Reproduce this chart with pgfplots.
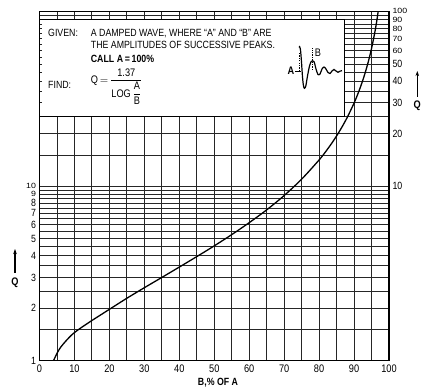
\documentclass[border=0pt]{standalone}
\usepackage{fontspec}
\setmainfont{Liberation Sans}[FakeStretch=0.84]
\usepackage{amsmath}
\usepackage{graphicx}
\usepackage{pgfplots}
\pgfplotsset{compat=1.18}
\usetikzlibrary{arrows.meta}
\newcommand{\sq}[1]{\scalebox{1}[0.72]{#1}}
\begin{document}
\begin{tikzpicture}[x=1bp,y=1bp]
\path[use as bounding box] (0,0) rectangle (426,389);
\begin{axis}[
  at={(39.5bp,28.3bp)}, anchor=south west,
  scale only axis, width=349.5bp, height=349bp,
  xmin=0, xmax=100, ymode=log, ymin=1, ymax=100,
  xtick={0,10,...,100}, minor xtick={5,15,...,95},
  ytick={1,2,3,4,5,6,7,8,9,10},
  yticklabels={1,2,3,4,5,6,7,8,\sq{9},\raisebox{1.5bp}{\sq{10}}},
  minor ytick={1.5,2.5,3.5,4.5,5.5,6.5,7.5,8.5,9.5,15,20,25,30,35,40,45,50,55,60,65,70,75,80,85,90,95,100},
  grid=both,
  grid style={black!85, line width=0.95bp},
  minor grid style={black!85, line width=0.95bp},
  major tick length=0pt, minor tick length=0pt,
  axis line style={line width=1.1bp},
  tick label style={font=\fontsize{11}{12}\selectfont},
  yticklabel style={font=\fontsize{10.5}{10.5}\selectfont},
  /pgf/number format/assume math mode=true,
  xticklabel style={yshift=-1bp},
]
\fill[white] (axis cs:0.7,25) rectangle (axis cs:87.2,90);
\draw[black, line width=1bp] (axis cs:0,90) -- (axis cs:87.2,90) -- (axis cs:87.2,25) -- (axis cs:0,25);
\addplot[black, line width=1.3bp, smooth, tension=0.5] coordinates {
(4.0,1.0) (4.5,1.05) (5.2,1.12) (6,1.19) (7,1.26) (8.5,1.36) (10,1.45) (12,1.55) (15,1.70) (17.5,1.83) (20,1.97)
(25,2.28) (30,2.62) (35,3.00) (40,3.44) (45,3.95) (50,4.55) (55,5.28) (60,6.18) (65,7.32) (70,8.84) (75,10.97)
(80,14.14) (82,15.90) (84,18.09) (86,20.92) (88,24.68) (90,29.94) (91,33.45) (92,37.84) (93,43.46) (94,50.99)
(95,61.49) (96,77.27) (96.5,88.56) (96.89,100)
};
\end{axis}
\begin{axis}[
  at={(39.5bp,28.3bp)}, anchor=south west,
  scale only axis, width=349.5bp, height=349bp,
  xmin=0, xmax=100, ymode=log, ymin=1, ymax=100,
  xtick=\empty,
  ytick={10,20,30,40,50,60,70,80,90,100},
  yticklabels={10,20,30,40,50,\sq{60},\sq{70},\sq{80},\sq{90},\raisebox{2bp}{\sq{100}}},
  yticklabel pos=right,
  axis line style={draw=none},
  major tick length=0pt, minor tick length=0pt,
  tick label style={font=\fontsize{10.5}{10.5}\selectfont},
  /pgf/number format/assume math mode=true,
]
\end{axis}
% inset: damped wave
\begin{axis}[
  at={(290bp,295bp)}, anchor=south west,
  scale only axis, width=55bp, height=51bp,
  xmin=290, xmax=345, ymin=295, ymax=346,
  hide axis, clip=false,
]
\addplot[black, line width=1.2bp, smooth, tension=0.5] coordinates {
(299.0,341.5) (299.6,342.3) (300.5,339) (301.5,327) (302.5,312) (303.5,303) (304.5,300.7) (305.8,303)
(307.5,313) (309.5,323) (311.2,327.5) (312.7,328.2) (314.2,327) (316,320) (318,314.5) (320,315) (322,320)
(324,322) (326,320) (328,316.5) (330,315.5) (332,318) (334,319.5) (336,318) (338,316.7) (340,317.8) (342,318.3)
};
\addplot[black, line width=0.7bp] coordinates {(295,318) (301,318)};
\addplot[black, line width=0.7bp, dash pattern=on 1.2bp off 1.2bp] coordinates {(299,318) (299,337)};
\addplot[black, line width=0.7bp, dash pattern=on 1.2bp off 1.2bp] coordinates {(312.7,319) (312.7,341)};
\node[font=\fontsize{11}{11}\selectfont\bfseries] at (axis cs:291,318.5) {A};
\node[font=\fontsize{11}{11}\selectfont] at (axis cs:318,336) {B};
\end{axis}
% box texts
\begin{scope}[every node/.style={font=\fontsize{10.5}{12}\selectfont, inner sep=0pt, anchor=west}]
\node at (48,355.7) {GIVEN:};
\node at (90.7,355.7) {A DAMPED WAVE, WHERE ``A'' AND ``B'' ARE};
\node at (90.7,344) {THE AMPLITUDES OF SUCCESSIVE PEAKS.};
\node at (90.7,330.5) {\bfseries CALL A\,=\,100\%};
\node at (48,304) {FIND:};
\node[font=\fontsize{11}{13}\selectfont] at (90.7,302.5) {Q\,$=$\,$\dfrac{\text{1.37}}{\text{LOG}\,\dfrac{\text{A}}{\text{B}}}$};
\end{scope}
% Q arrows
\draw[line width=1.1bp, -{Stealth[length=5bp,width=3.5bp]}] (15,116) -- (15,140);
\node[font=\fontsize{11}{11}\selectfont\bfseries] at (15,106.5) {Q};
\draw[line width=1.1bp, -{Stealth[length=5bp,width=3.5bp]}] (417.3,292) -- (417.3,318);
\node[font=\fontsize{11}{11}\selectfont\bfseries] at (417.3,283.5) {Q};
\node[font=\fontsize{10.5}{11}\selectfont\bfseries] at (218,6.5) {B,\% OF A};
\end{tikzpicture}
\end{document}
